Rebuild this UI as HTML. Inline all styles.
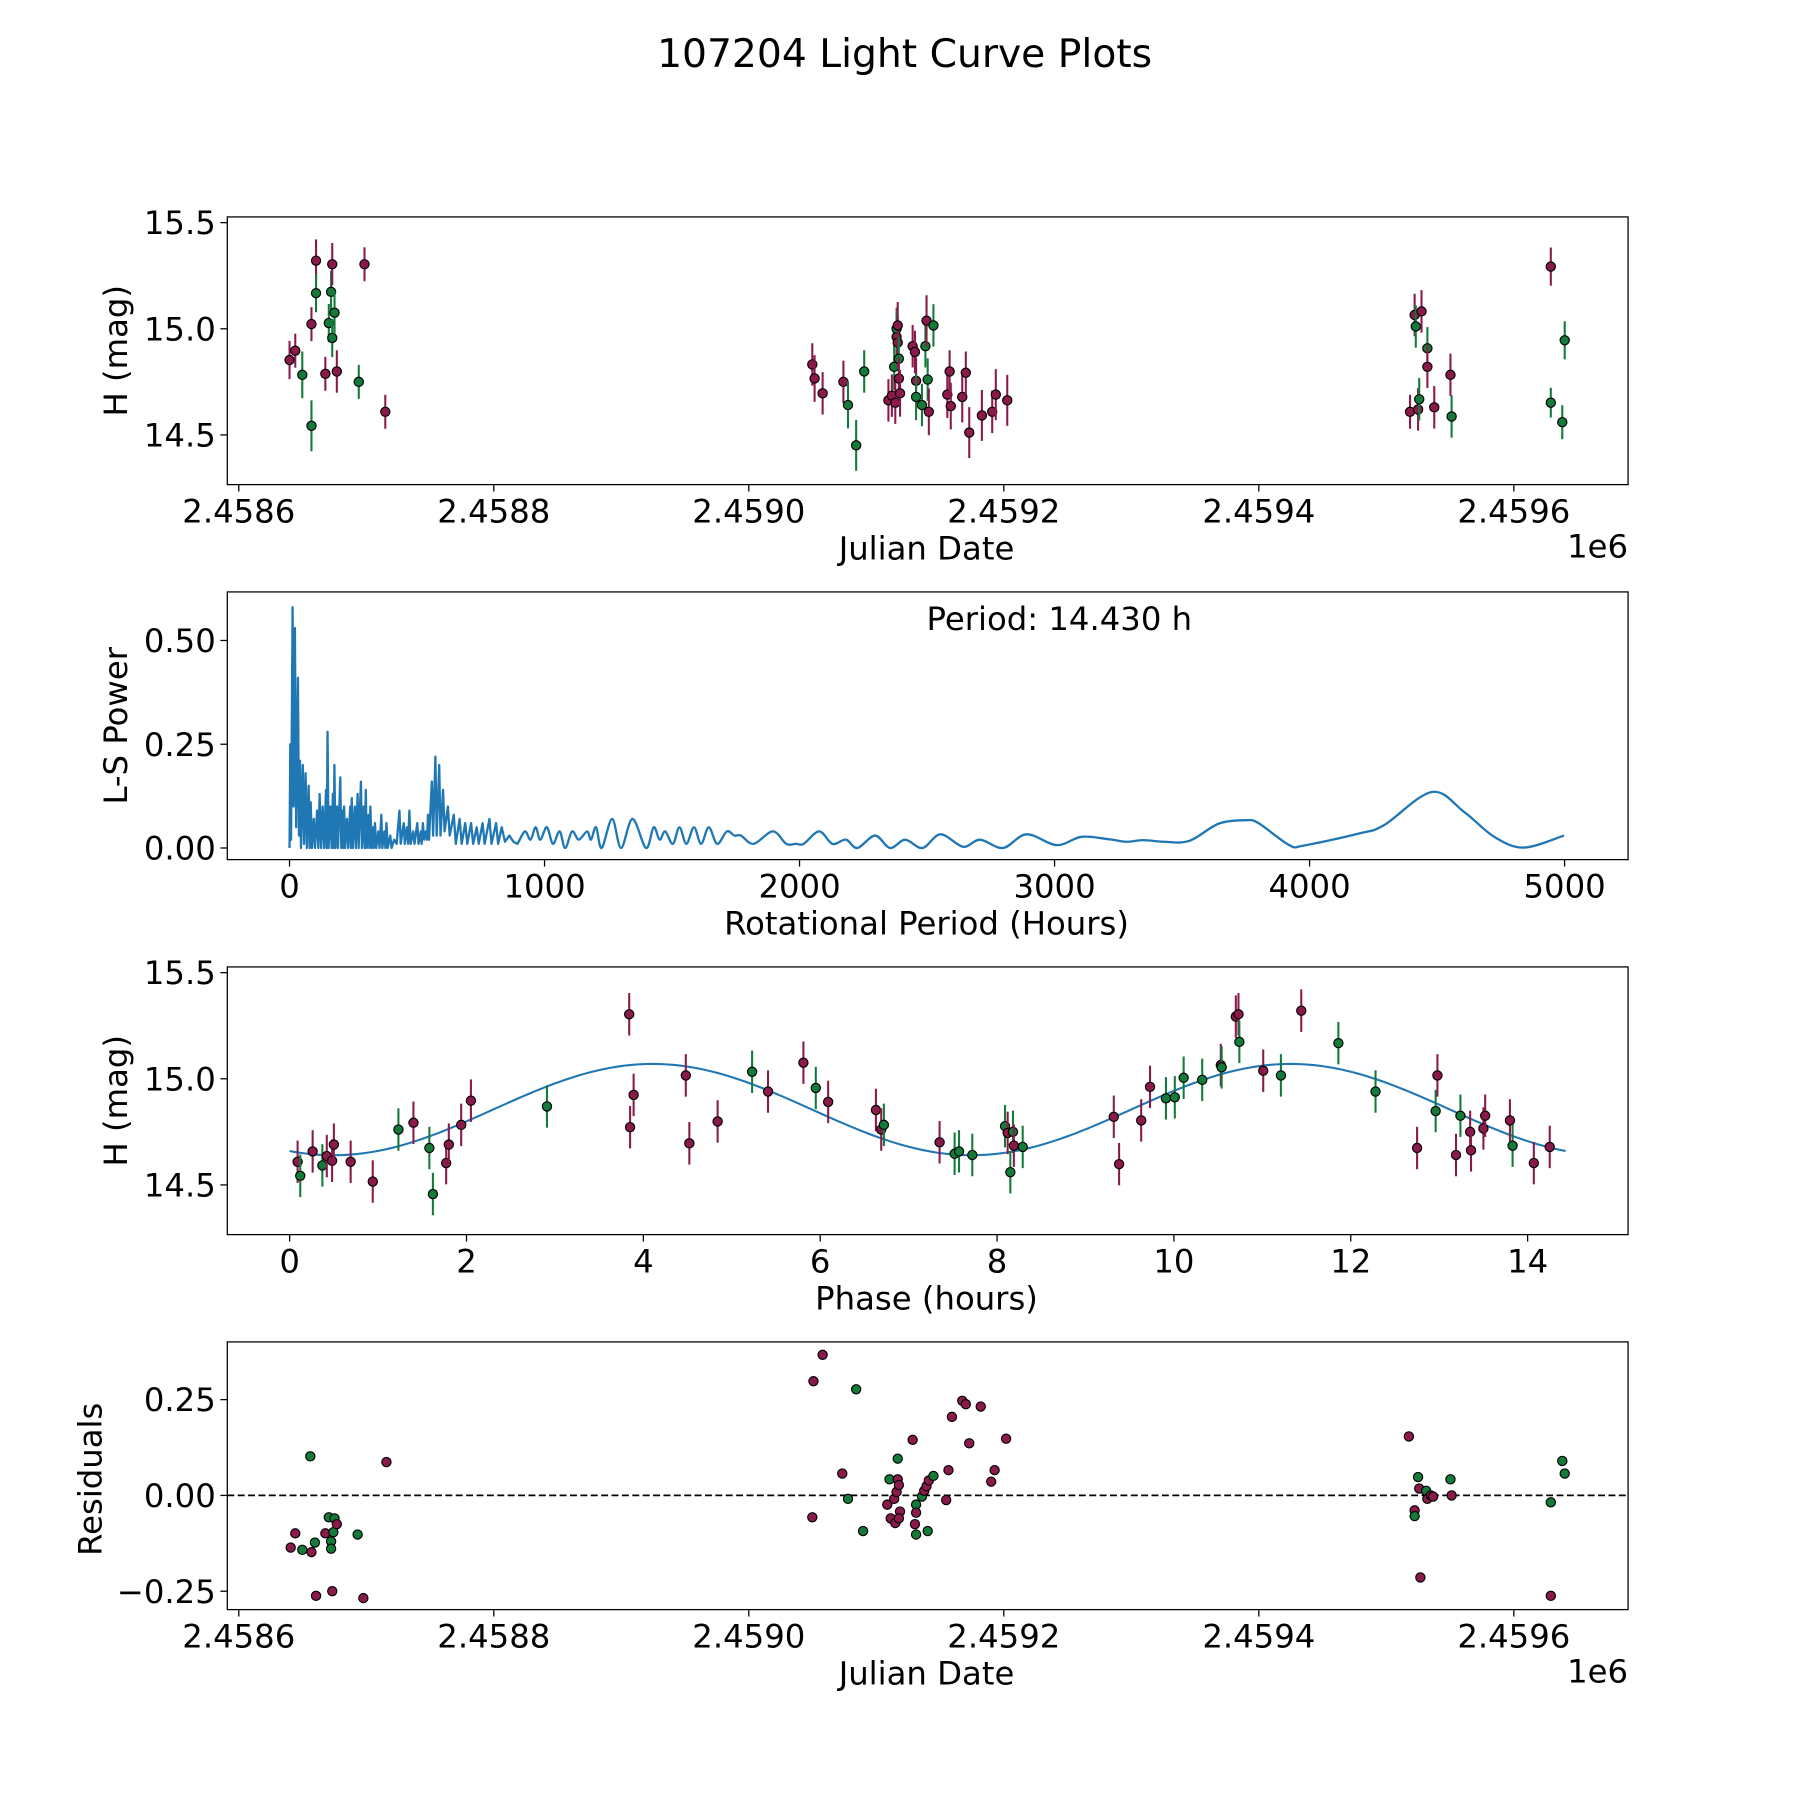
<!DOCTYPE html>
<html><head><meta charset="utf-8"><title>107204 Light Curve Plots</title>
<style>html,body{margin:0;padding:0;background:#fff}svg{display:block}text{font-family:"DejaVu Sans","Liberation Sans",sans-serif;fill:#000}</style>
</head><body>
<svg id="fig" xmlns="http://www.w3.org/2000/svg" width="1800" height="1800" viewBox="0 0 1560 1560">
<rect width="1560" height="1560" fill="#fff"/>
<text x="784" y="58" font-size="34" text-anchor="middle">107204 Light Curve Plots</text>
</svg>
<script>
// ---------- data ----------
const JD_BASE = 2458600;
// Panel 1: raw light curve (days since JD_BASE)
const lcDays = [39.8,44.3,49.8,57.0,57.0,60.6,60.6,67.9,70.6,72.4,73.3,73.3,75.1,76.9,94.1,98.6,114.9,
 449.8,451.6,457.9,474.2,477.8,484.2,490.5,509.5,512.2,514.0,514.9,515.9,515.9,516.8,516.8,517.7,517.7,518.6,528.5,530.3,531.2,531.2,535.8,538.5,539.4,540.3,541.2,544.8,555.7,557.5,558.4,567.4,570.2,572.9,582.8,590.9,593.7,602.7,
 918.6,922.2,923.1,924.9,925.8,927.6,932.2,932.2,937.6,950.3,951.2,1029.0,1029.0,1038.0,1039.9];
const lcMag = [14.853,14.897,14.783,14.543,15.022,15.321,15.168,14.788,15.027,15.174,15.304,14.957,15.076,14.799,14.75,15.304,14.609,
 14.832,14.766,14.696,14.75,14.641,14.451,14.799,14.663,14.685,14.821,14.652,14.962,15.0,14.935,15.016,14.859,14.766,14.696,14.918,14.891,14.755,14.679,14.641,14.918,15.038,14.761,14.609,15.016,14.69,14.799,14.636,14.679,14.793,14.511,14.592,14.609,14.69,14.663,
 14.609,15.065,15.011,14.62,14.668,15.082,14.908,14.821,14.63,14.783,14.587,15.293,14.652,14.56,14.946];
const lcErr = [0.09,0.08,0.11,0.12,0.08,0.1,0.09,0.08,0.09,0.1,0.1,0.09,0.1,0.1,0.08,0.08,0.08,
 0.1,0.11,0.1,0.1,0.11,0.12,0.1,0.1,0.1,0.11,0.1,0.11,0.1,0.12,0.11,0.1,0.1,0.11,0.1,0.1,0.11,0.11,0.1,0.1,0.12,0.1,0.11,0.1,0.11,0.1,0.11,0.12,0.1,0.12,0.12,0.1,0.12,0.12,
 0.08,0.1,0.1,0.1,0.1,0.1,0.1,0.1,0.1,0.1,0.1,0.09,0.07,0.08,0.09];
const lcBand = ["p","p","g","g","p","p","g","p","g","g","p","g","g","p","g","p","p",
 "p","p","p","p","g","g","g","p","p","g","p","p","g","p","p","g","p","p","p","p","p","g","g","g","p","g","p","g","p","p","p","p","p","p","p","p","p","p",
 "p","p","g","p","g","p","g","p","p","p","g","p","g","g","g"];
// Panel 2: periodogram (hours, power)
const lsPeriod = [0,3,6,12,16,21,26,33,37,41,45,52,57,63,68,75,79,83,88,95,100,108,113,118,124,130,136,143,146,149,153,160,165,170,173,176,180,186,190,199,203,208,211,214,218,225,230,238,241,244,248,256,260,267,271,280,284,291,295,299,303,310,313,317,322,328,331,335,340,348,353,360,364,372,376,380,385,395,400,410,420,431,436,448,452,460,465,470,475,485,490,501,506,515,518,523,528,535,539,543,547,558,563,572,577,587,592,602,608,621,628,644,652,667,675,689,697,712,720,734,742,757,765,784,792,810,818,832,845,862,878,893,
 923,945,965,983,1009,1033,1059,1081,1108,1134,1167,1182,1202,1224,1265,1300,1345,1398,1428,1451,1473,1503,1529,1556,1586,1614,1644,1677,1715,1745,1770,1820,1895,1948,1986,2016,2077,2129,2182,2227,2296,2355,2414,2482,2553,2641,2708,2798,2890,3008,3106,3214,3282,3347,3429,3528,3645,3753,3802,3920,3979,4194,4292,4479,4606,4724,4841,4998];
const lsPower = [0,0.25,0.02,0.58,0.1,0.53,0.05,0.41,0.03,0.21,0,0.2,0.01,0.18,0,0.15,0,0.11,0,0.07,0,0.09,0,0.13,0,0.1,0,0.14,0,0.28,0,0.1,0,0.13,0,0.2,0,0.1,0,0.17,0,0.09,0,0.1,0,0.07,0,0.1,0,0.12,0,0.1,0,0.13,0,0.16,0,0.1,0,0.14,0,0.08,0,0.1,0,0.05,0,0.06,0,0.04,0,0.08,0,0.04,0,0.06,0,0.03,0,0.02,0.01,0.09,0.01,0.06,0.01,0.05,0.01,0.09,0.01,0.04,0.01,0.06,0.01,0.04,0.01,0.06,0.02,0.04,0.02,0.08,0.02,0.16,0.03,0.22,0.03,0.2,0.03,0.14,0.04,0.1,0.03,0.08,0.01,0.07,0.01,0.06,0.01,0.06,0.01,0.05,0.01,0.06,0.01,0.07,0.01,0.06,0.01,0.05,0.015,0.03,0.015,0.01,
 0.04,0.02,0.05,0.02,0.05,0.01,0.04,0.0,0.04,0.02,0.04,0.02,0.05,0.0,0.07,0.0,0.07,0.0,0.05,0.02,0.04,0.01,0.05,0.01,0.05,0.01,0.05,0.01,0.04,0.03,0.03,0.01,0.04,0.01,0.01,0.01,0.04,0.01,0.02,0.0,0.03,0.0,0.02,0,0.033,0.003,0.02,0.0,0.033,0.007,0.027,0.021,0.015,0.019,0.015,0.017,0.059,0.067,0.059,0.007,0.006,0.035,0.055,0.135,0.087,0.027,0.001,0.03];
const DENSE_LIMIT = 893;
const bestPeriodLabel = "Period: 14.430 h";
// Panel 3: phase-folded
const phHours = [0.09,0.12,0.26,0.37,0.42,0.48,0.50,0.69,0.94,1.23,1.40,1.58,1.62,1.77,1.80,1.94,2.05,2.91,3.84,3.85,3.89,4.48,4.52,4.84,5.23,5.41,5.81,5.95,6.09,6.63,6.69,6.72,7.35,7.52,7.57,7.72,8.09,8.12,8.15,8.18,8.19,8.29,9.32,9.38,9.63,9.73,9.91,10.01,10.11,10.32,10.53,10.54,10.70,10.73,10.74,11.01,11.21,11.44,11.86,12.28,12.75,12.96,12.98,13.19,13.24,13.35,13.36,13.50,13.52,13.80,13.83,14.07,14.25];
const phMag = [14.609,14.543,14.658,14.592,14.636,14.614,14.69,14.609,14.516,14.761,14.793,14.674,14.457,14.603,14.69,14.783,14.897,14.87,15.304,14.772,14.924,15.016,14.696,14.799,15.033,14.94,15.076,14.957,14.891,14.853,14.761,14.783,14.701,14.647,14.658,14.641,14.777,14.745,14.56,14.75,14.685,14.679,14.821,14.598,14.804,14.962,14.908,14.913,15.005,14.995,15.065,15.054,15.293,15.304,15.174,15.038,15.016,15.321,15.168,14.94,14.674,14.848,15.016,14.641,14.826,14.75,14.663,14.766,14.826,14.804,14.685,14.603,14.679];
const phBand = ["p","g","p","g","p","p","p","p","p","g","p","g","g","p","p","p","p","g","p","p","p","p","p","p","g","p","p","g","p","p","p","g","p","g","g","g","g","p","g","g","p","g","p","p","p","p","g","g","g","g","p","g","p","p","g","p","g","p","g","g","p","g","p","p","g","p","p","p","p","p","g","p","p"];
const fitMean = 14.855, fitAmp = 0.215, fitPeriod = 7.215, fitPhase0 = 2.3, foldPeriod = 14.43;
// Panel 4: residuals
const resDays = [40.7,44.3,49.8,56.1,57.0,59.7,60.6,67.9,70.6,72.4,72.4,74.2,73.3,75.1,76.9,93.2,97.7,115.8,
 449.8,450.7,457.9,473.3,477.8,484.2,489.6,508.6,510.4,511.3,514.0,514.9,515.9,516.8,516.8,517.7,518.6,517.7,528.5,530.3,531.2,531.2,531.2,535.8,537.6,539.4,540.3,541.2,544.8,554.8,556.6,559.3,567.4,570.2,572.9,581.9,590.1,592.8,601.8,
 917.7,922.2,922.2,924.9,925.8,926.7,931.2,932.2,934.9,936.7,950.3,951.2,1029.0,1029.0,1038.0,1039.9];
const resVal = [-0.136,-0.099,-0.142,0.102,-0.148,-0.123,-0.262,-0.099,-0.057,-0.120,-0.139,-0.096,-0.25,-0.06,-0.075,-0.102,-0.268,0.087,
 -0.057,0.298,0.367,0.057,-0.009,0.277,-0.093,-0.024,0.042,-0.06,-0.009,-0.072,0.009,0.096,0.042,0.027,-0.042,-0.06,0.145,-0.075,-0.024,-0.102,-0.045,-0.003,0.012,0.024,-0.093,0.039,0.051,-0.012,0.066,0.205,0.247,0.238,0.136,0.232,0.036,0.066,0.148,
 0.154,-0.039,-0.054,0.048,0.018,-0.214,0.012,-0.009,0.0,-0.003,0.042,0.0,-0.018,-0.262,0.09,0.057];
const resBand = ["p","p","g","g","p","g","p","p","g","g","g","g","p","g","p","g","p","p",
 "p","p","p","p","g","g","g","p","g","p","p","p","p","g","p","p","p","p","p","p","g","g","p","g","p","p","g","p","g","p","p","p","p","p","p","p","p","p","p",
 "p","p","g","g","p","p","g","p","p","p","g","p","g","p","g","g"];
const jdTicks = [0,200,400,600,800,1000];
const jdTickLabels = ["2.4586","2.4588","2.4590","2.4592","2.4594","2.4596"];
const magTicks = [14.5,15.0,15.5];
const magTickLabels = ["14.5","15.0","15.5"];
const lsXTicks = [0,1000,2000,3000,4000,5000];
const lsYTicks = [0,0.25,0.5];
const lsYTickLabels = ["0.00","0.25","0.50"];
const phXTicks = [0,2,4,6,8,10,12,14];
const resYTicks = [-0.25,0,0.25];
const resYTickLabels = ["\u22120.25","0.00","0.25"];

// ---------- drawing ----------
const NS = "http://www.w3.org/2000/svg";
const svg = document.getElementById("fig");
const PURPLE = "#8b1a4b", GREEN = "#137a3a", BLUE = "#1f77b4";
const FS = 28;
function el(tag, attrs, parent) {
  const e = document.createElementNS(NS, tag);
  for (const k in attrs) e.setAttribute(k, attrs[k]);
  (parent || svg).appendChild(e);
  return e;
}
function scale(d0, d1, r0, r1) { return v => r0 + (v - d0) * (r1 - r0) / (d1 - d0); }
const L = 197, R = 1411;
function axes(name, top, bot, xd, yd) {
  const g = el("g", {});
  
  
  return { g, top, bot, x: scale(xd[0], xd[1], L, R), y: scale(yd[0], yd[1], bot, top) };
}
function frame(ax) {
  const r = el("rect", { x: L, y: ax.top, width: R - L, height: ax.bot - ax.top, fill: "none", stroke: "#000", "stroke-width": 1.1 }, ax.g);
  
  
}
function xTicks(ax, vals, labels) {
  vals.forEach((v, i) => {
    const px = ax.x(v);
    const t = el("line", { x1: px, x2: px, y1: ax.bot, y2: ax.bot + 6, stroke: "#000", "stroke-width": 1.1 }, ax.g);
    
    
    const tx = el("text", { x: px, y: ax.bot + 33, "font-size": FS, "text-anchor": "middle" }, ax.g);
    
    
    tx.textContent = labels[i];
  });
}
function yTicks(ax, vals, labels) {
  vals.forEach((v, i) => {
    const py = ax.y(v);
    const t = el("line", { x1: L - 6, x2: L, y1: py, y2: py, stroke: "#000", "stroke-width": 1.1 }, ax.g);
    
    
    const tx = el("text", { x: L - 10, y: py + 10, "font-size": FS, "text-anchor": "end" }, ax.g);
    
    
    tx.textContent = labels[i];
  });
}
function label(ax, txt, x, y, rot, name, anchor) {
  const t = el("text", { x, y, "font-size": FS, "text-anchor": anchor || "middle" }, ax.g);
  if (rot) t.setAttribute("transform", "rotate(-90 " + x + " " + y + ")");
  
  
  t.textContent = txt;
}
function point(ax, px, py, col, errPx, name) {
  if (errPx) {
    const e = el("line", { x1: px, x2: px, y1: py - errPx, y2: py + errPx, stroke: col, "stroke-width": 1.8 }, ax.g);
    
    
  }
  const c = el("circle", { cx: px, cy: py, r: 4, fill: col, stroke: "#000", "stroke-width": 1 }, ax.g);
  
  
}

// Panel 1
const a1 = axes("light-curve-panel", 188, 420, [-9, 1089.6], [14.266, 15.527]);
lcDays.forEach((d, i) => {
  const py = a1.y(lcMag[i]);
  point(a1, a1.x(d), py, lcBand[i] === "g" ? GREEN : PURPLE, a1.y(lcMag[i] - lcErr[i]) - py, "light-curve-point");
});
frame(a1);
xTicks(a1, jdTicks, jdTickLabels);
yTicks(a1, magTicks, magTickLabels);
label(a1, "Julian Date", 803, 485, false, "x-axis-title");
label(a1, "1e6", 1411, 483, false, "x-offset-label", "end");
label(a1, "H (mag)", 110, 304, true, "y-axis-title");

// Panel 2
const a2 = axes("periodogram-panel", 513, 745, [-244, 5249], [-0.028, 0.617]);
let d = "";
let pts = lsPeriod.map((p, i) => [a2.x(p), a2.y(lsPower[i])]);
pts.forEach((p, i) => {
  if (i === 0) { d += "M" + p[0].toFixed(2) + " " + p[1].toFixed(2); return; }
  if (lsPeriod[i] <= DENSE_LIMIT) { d += "L" + p[0].toFixed(2) + " " + p[1].toFixed(2); return; }
  const p0 = pts[i - 2] || pts[i - 1], p1 = pts[i - 1], p3 = pts[i + 1] || p;
  const c1 = [p1[0] + (p[0] - p0[0]) / 6, p1[1] + (p[1] - p0[1]) / 6];
  const c2 = [p[0] - (p3[0] - p1[0]) / 6, p[1] - (p3[1] - p1[1]) / 6];
  d += "C" + c1[0].toFixed(2) + " " + c1[1].toFixed(2) + " " + c2[0].toFixed(2) + " " + c2[1].toFixed(2) + " " + p[0].toFixed(2) + " " + p[1].toFixed(2);
});
const ls = el("path", { d, fill: "none", stroke: BLUE, "stroke-width": 2, "stroke-linejoin": "round" }, a2.g);


frame(a2);
xTicks(a2, lsXTicks, lsXTicks.map(String));
yTicks(a2, lsYTicks, lsYTickLabels);
label(a2, bestPeriodLabel, 803, 546, false, "period-annotation", "start");
label(a2, "Rotational Period (Hours)", 803, 810, false, "x-axis-title");
label(a2, "L-S Power", 110, 629, true, "y-axis-title");

// Panel 3
const a3 = axes("phase-folded-panel", 838, 1070, [-0.705, 15.136], [14.266, 15.527]);
const fitPts = [];
for (let i = 0; i <= 300; i++) {
  const p = foldPeriod * i / 300;
  const m = fitMean + fitAmp * Math.sin(2 * Math.PI * (p - fitPhase0) / fitPeriod);
  fitPts.push(a3.x(p).toFixed(2) + "," + a3.y(m).toFixed(2));
}
const fit = el("polyline", { points: fitPts.join(" "), fill: "none", stroke: BLUE, "stroke-width": 1.8 }, a3.g);


phHours.forEach((h, i) => {
  const py = a3.y(phMag[i]);
  point(a3, a3.x(h), py, phBand[i] === "g" ? GREEN : PURPLE, a3.y(phMag[i] - 0.1) - py, "phase-point");
});
frame(a3);
xTicks(a3, phXTicks, phXTicks.map(String));
yTicks(a3, magTicks, magTickLabels);
label(a3, "Phase (hours)", 803, 1135, false, "x-axis-title");
label(a3, "H (mag)", 110, 954, true, "y-axis-title");

// Panel 4
const a4 = axes("residuals-panel", 1163, 1395, [-9, 1089.6], [-0.298, 0.4006]);
const zl = el("line", { x1: L, x2: R, y1: a4.y(0), y2: a4.y(0), stroke: "#000", "stroke-width": 1.5, "stroke-dasharray": "6 3" }, a4.g);


resDays.forEach((dd, i) => {
  point(a4, a4.x(dd), a4.y(resVal[i]), resBand[i] === "g" ? GREEN : PURPLE, 0, "residual-point");
});
frame(a4);
xTicks(a4, jdTicks, jdTickLabels);
yTicks(a4, resYTicks, resYTickLabels);
label(a4, "Julian Date", 803, 1460, false, "x-axis-title");
label(a4, "1e6", 1411, 1458, false, "x-offset-label", "end");
label(a4, "Residuals", 88, 1282, true, "y-axis-title");
</script>
</body></html>
